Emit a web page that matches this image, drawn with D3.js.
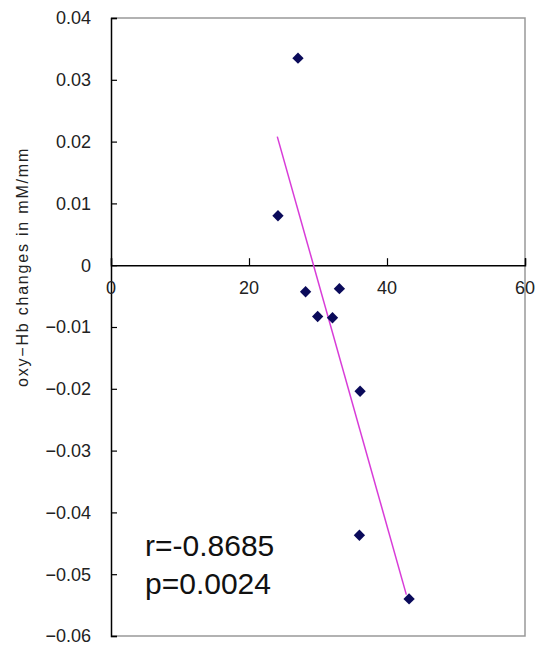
<!DOCTYPE html>
<html><head><meta charset="utf-8">
<script src="https://cdn.jsdelivr.net/npm/d3@7"></script>
<style>body{margin:0;background:#fff}</style>
</head><body>
<svg id="c" width="542" height="650"></svg>
<script>
const xValues = [27.1, 24.2, 28.2, 33.1, 29.95, 32.1, 36.1, 36.0, 43.2];
const yValues = [0.0335, 0.0080, -0.0043, -0.0038, -0.0083, -0.0085, -0.0204, -0.0437, -0.0540];
const trendX = [24.1, 42.8];
const trendY = [0.0208, -0.0533];
const xTicks = [0, 20, 40, 60];
const yTicks = [0.04, 0.03, 0.02, 0.01, 0, -0.01, -0.02, -0.03, -0.04, -0.05, -0.06];
const yLabelText = "oxy\u2212Hb changes in mM/mm";
const statLines = ["r=-0.8685", "p=0.0024"];

const svg = d3.select("#c");
const L = 111, R = 525, T = 18, B = 636;
const x = d3.scaleLinear().domain([0, 60]).range([L, R]);
const y = d3.scaleLinear().domain([-0.06, 0.04]).range([B, T]);
const fmt = v => v === 0 ? "0" : (v < 0 ? "\u2212" : "") + Math.abs(v).toFixed(2);

// frame (top, right, bottom grey)
svg.append("path").attr("d", `M${L},${T}H${R}V${B}H${L}`)
  .attr("fill", "none").attr("stroke", "#999").attr("stroke-width", 1.5);

// y axis
const ya = d3.axisRight(y).tickValues(yTicks).tickSize(6).tickFormat("");
const yg = svg.append("g").attr("transform", `translate(${L},0)`).call(ya);
yg.select(".domain").attr("stroke", "#000").attr("stroke-width", 1.5);
yg.selectAll(".tick line").attr("stroke", "#000").attr("stroke-width", 1.2);
svg.append("g").selectAll("text").data(yTicks).join("text")
  .attr("x", 91).attr("y", d => y(d)).attr("dy", "0.36em")
  .attr("text-anchor", "end").attr("font-family", "Liberation Sans, Arial, sans-serif")
  .attr("font-size", 18).attr("fill", "#222").text(fmt);

// x axis at y=0
const xa = d3.axisTop(x).tickValues(xTicks).tickSize(7).tickFormat("");
const xg = svg.append("g").attr("transform", `translate(0,${y(0)})`).call(xa);
xg.select(".domain").attr("stroke", "#000").attr("stroke-width", 1.5);
xg.selectAll(".tick line").attr("stroke", "#000").attr("stroke-width", 1.2);
svg.append("g").selectAll("text").data(xTicks).join("text")
  .attr("x", d => x(d)).attr("y", y(0) + 29).attr("dy", "0.0em")
  .attr("text-anchor", "middle").attr("font-family", "Liberation Sans, Arial, sans-serif")
  .attr("font-size", 18).attr("fill", "#222").text(d => d);

// y label
svg.append("text").attr("transform", `translate(28,267) rotate(-90)`)
  .attr("text-anchor", "middle").attr("font-family", "Liberation Sans, Arial, sans-serif")
  .attr("font-size", 16).attr("letter-spacing", 1.8).attr("fill", "#222").text(yLabelText);

// trend line
svg.append("line").attr("x1", x(trendX[0])).attr("y1", y(trendY[0]))
  .attr("x2", x(trendX[1])).attr("y2", y(trendY[1]))
  .attr("stroke", "#d83cd8").attr("stroke-width", 1.5);

// points
const pts = xValues.map((v, i) => [v, yValues[i]]);
svg.append("g").selectAll("path").data(pts).join("path")
  .attr("transform", d => `translate(${x(d[0])},${y(d[1])}) rotate(45)`)
  .attr("d", d3.symbol(d3.symbolSquare, 64)).attr("fill", "#0a0a5a");

// stats text
svg.append("g").selectAll("text").data(statLines).join("text")
  .attr("x", 145).attr("y", (d, i) => 556 + i * 38)
  .attr("font-family", "Liberation Sans, Arial, sans-serif")
  .attr("font-size", 30).attr("fill", "#111").text(d => d);
</script>
</body></html>
